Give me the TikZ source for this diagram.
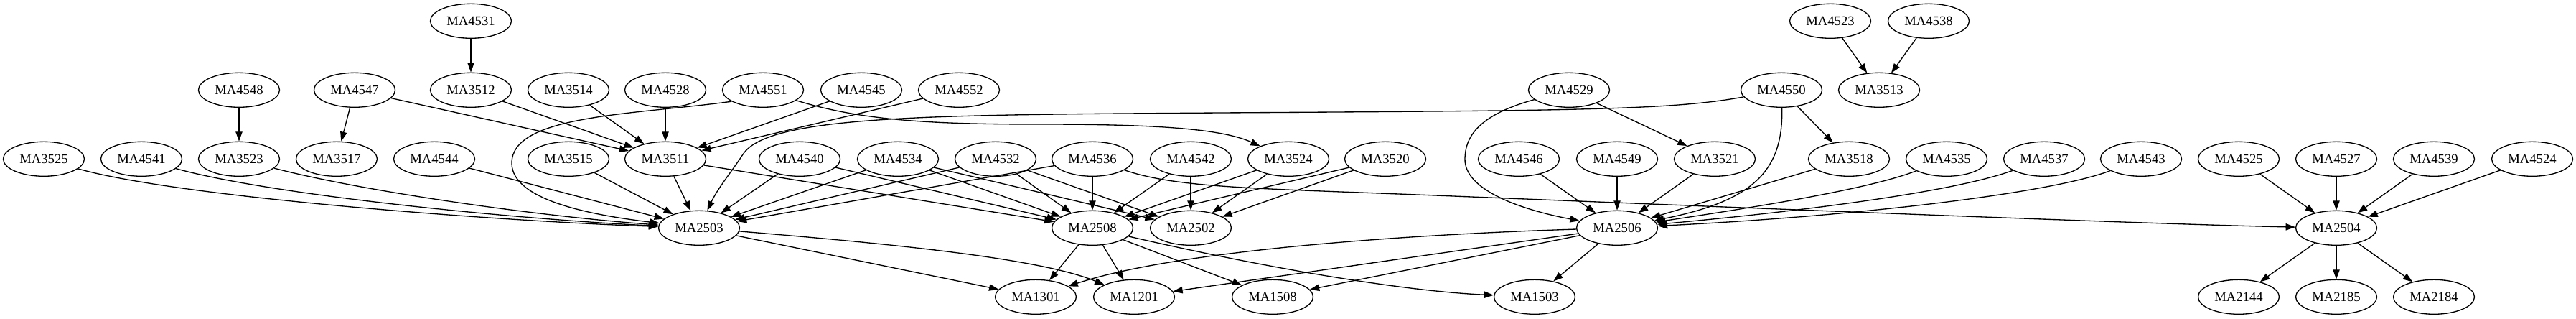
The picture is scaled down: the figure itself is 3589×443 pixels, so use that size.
\documentclass[tikz,border=0pt]{standalone}
\usepackage{fontspec}
\setmainfont{Liberation Serif}
\usetikzlibrary{shapes.geometric,arrows.meta}
\begin{document}
\begin{tikzpicture}[x=0.75pt,y=-0.75pt,
  nd/.style={ellipse,draw,line width=1pt,minimum width=84.75pt,minimum height=36pt,inner sep=0pt,font=\fontsize{14}{16}\selectfont},
  ed/.style={line width=1pt,-{Triangle[length=10pt,width=7pt]}}]
\useasboundingbox (0,0) rectangle (3589,443);
% row 0
\node[nd] (n4531) at (656,29.3) {MA4531};
\node[nd] (n4523) at (2550,29.3) {MA4523};
\node[nd] (n4538) at (2687,29.3) {MA4538};
% row 1
\node[nd] (n4548) at (333,125.3) {MA4548};
\node[nd] (n4547) at (494,125.3) {MA4547};
\node[nd] (n3512) at (656,125.3) {MA3512};
\node[nd] (n3514) at (792,125.3) {MA3514};
\node[nd] (n4528) at (927,125.3) {MA4528};
\node[nd] (n4551) at (1063,125.3) {MA4551};
\node[nd] (n4545) at (1200,125.3) {MA4545};
\node[nd] (n4552) at (1336,125.3) {MA4552};
\node[nd] (n4529) at (2186,125.3) {MA4529};
\node[nd] (n4550) at (2482,125.3) {MA4550};
\node[nd] (n3513) at (2618,125.3) {MA3513};
% row 2
\node[nd] (n3525) at (61,221.3) {MA3525};
\node[nd] (n4541) at (197,221.3) {MA4541};
\node[nd] (n3523) at (333,221.3) {MA3523};
\node[nd] (n3517) at (469,221.3) {MA3517};
\node[nd] (n4544) at (605,221.3) {MA4544};
\node[nd] (n3515) at (792,221.3) {MA3515};
\node[nd] (n3511) at (927,221.3) {MA3511};
\node[nd] (n4540) at (1114,221.3) {MA4540};
\node[nd] (n4534) at (1251,221.3) {MA4534};
\node[nd] (n4532) at (1387,221.3) {MA4532};
\node[nd] (n4536) at (1522,221.3) {MA4536};
\node[nd] (n4542) at (1659,221.3) {MA4542};
\node[nd] (n3524) at (1795,221.3) {MA3524};
\node[nd] (n3520) at (1930,221.3) {MA3520};
\node[nd] (n4546) at (2116,221.3) {MA4546};
\node[nd] (n4549) at (2253,221.3) {MA4549};
\node[nd] (n3521) at (2389,221.3) {MA3521};
\node[nd] (n3518) at (2576,221.3) {MA3518};
\node[nd] (n4535) at (2712,221.3) {MA4535};
\node[nd] (n4537) at (2848,221.3) {MA4537};
\node[nd] (n4543) at (2983,221.3) {MA4543};
\node[nd] (n4525) at (3119,221.3) {MA4525};
\node[nd] (n4527) at (3255,221.3) {MA4527};
\node[nd] (n4539) at (3391,221.3) {MA4539};
\node[nd] (n4524) at (3528,221.3) {MA4524};
% row 3
\node[nd] (n2503) at (974,317.3) {MA2503};
\node[nd] (n2508) at (1522,317.3) {MA2508};
\node[nd] (n2502) at (1659,317.3) {MA2502};
\node[nd] (n2506) at (2253,317.3) {MA2506};
\node[nd] (n2504) at (3255,317.3) {MA2504};
% row 4
\node[nd] (n1301) at (1443,413.3) {MA1301};
\node[nd] (n1201) at (1580,413.3) {MA1201};
\node[nd] (n1508) at (1773,413.3) {MA1508};
\node[nd] (n1503) at (2138,413.3) {MA1503};
\node[nd] (n2144) at (3119,413.3) {MA2144};
\node[nd] (n2185) at (3255,413.3) {MA2185};
\node[nd] (n2184) at (3391,413.3) {MA2184};
% edges into row 1/2 from above
\draw[ed] (n4531) -- (n3512);
\draw[ed] (n4523) -- (n3513);
\draw[ed] (n4538) -- (n3513);
\draw[ed] (n4548) -- (n3523);
\draw[ed] (n4547) -- (n3517);
\draw[ed] (n4547) -- (n3511);
\draw[ed] (n3512) -- (n3511);
\draw[ed] (n3514) -- (n3511);
\draw[ed] (n4528) -- (n3511);
\draw[ed] (n4545) -- (n3511);
\draw[ed] (n4552) -- (n3511);
\draw[ed] (n4529) -- (n3521);
\draw[ed] (n4550) -- (n3518);
% long curved edges from row 1
\draw[ed] (n4551.200) .. controls (880,160) and (713,160) .. (713,227) .. controls (713,280) and (830,300) .. (n2503);
\draw[ed] (n4551) .. controls (1200,168) and (1300,173) .. (1450,173) .. controls (1600,173) and (1700,178) .. (n3524);
\draw[ed] (n4550) .. controls (2330,153) and (2200,154) .. (1700,157) .. controls (1300,160) and (1070,160) .. (1035,215) .. controls (1020,238) and (1000,262) .. (n2503);
\draw[ed] (n4529) .. controls (2060,160) and (2041,190) .. (2041,222) .. controls (2041,262) and (2110,290) .. (n2506);
\draw[ed] (n4550) .. controls (2485,240) and (2440,280) .. (n2506);
% into MA2503
\draw[ed] (n3525) .. controls (250,275) and (700,308) .. (n2503);
\draw[ed] (n4541) .. controls (380,272) and (720,305) .. (n2503);
\draw[ed] (n3523) .. controls (500,265) and (740,300) .. (n2503);
\draw[ed] (n4544) -- (n2503);
\draw[ed] (n3515) -- (n2503);
\draw[ed] (n3511) -- (n2503);
\draw[ed] (n4540) -- (n2503);
\draw[ed] (n4534) -- (n2503);
\draw[ed] (n4532) -- (n2503);
\draw[ed] (n4536) -- (n2503);
% into MA2508 / MA2502
\draw[ed] (n3511) -- (n2508);
\draw[ed] (n4540) -- (n2508);
\draw[ed] (n4534) -- (n2508);
\draw[ed] (n4534) -- (n2502);
\draw[ed] (n4532) -- (n2508);
\draw[ed] (n4532) -- (n2502);
\draw[ed] (n4536) -- (n2508);
\draw[ed] (n4542) -- (n2508);
\draw[ed] (n4542) -- (n2502);
\draw[ed] (n3524) -- (n2508);
\draw[ed] (n3524) -- (n2502);
\draw[ed] (n3520) -- (n2508);
\draw[ed] (n3520) -- (n2502);
\draw[ed] (n4536) .. controls (1640,262) and (1750,262) .. (2000,272) .. controls (2500,292) and (3000,312) .. (n2504);
% into MA2506
\draw[ed] (n4546) -- (n2506);
\draw[ed] (n4549) -- (n2506);
\draw[ed] (n3521) -- (n2506);
\draw[ed] (n3518) -- (n2506);
\draw[ed] (n4535) .. controls (2600,265) and (2420,292) .. (n2506);
\draw[ed] (n4537) .. controls (2720,268) and (2500,295) .. (n2506);
\draw[ed] (n4543) .. controls (2860,268) and (2600,300) .. (n2506);
% into MA2504
\draw[ed] (n4525) -- (n2504);
\draw[ed] (n4527) -- (n2504);
\draw[ed] (n4539) -- (n2504);
\draw[ed] (n4524) -- (n2504);
\draw[ed] (n2504) -- (n2144);
\draw[ed] (n2504) -- (n2185);
\draw[ed] (n2504) -- (n2184);
% bottom row
\draw[ed] (n2503) -- (n1301);
\draw[ed] (n2503) .. controls (1250,340) and (1450,360) .. (n1201);
\draw[ed] (n2508) -- (n1301);
\draw[ed] (n2508) -- (n1201);
\draw[ed] (n2508) -- (n1508);
\draw[ed] (n2508) .. controls (1750,370) and (1950,405) .. (n1503);
\draw[ed] (n2506) .. controls (2000,325) and (1650,345) .. (n1301);
\draw[ed] (n2506) -- (n1201);
\draw[ed] (n2506) -- (n1508);
\draw[ed] (n2506) -- (n1503);
\end{tikzpicture}
\end{document}
